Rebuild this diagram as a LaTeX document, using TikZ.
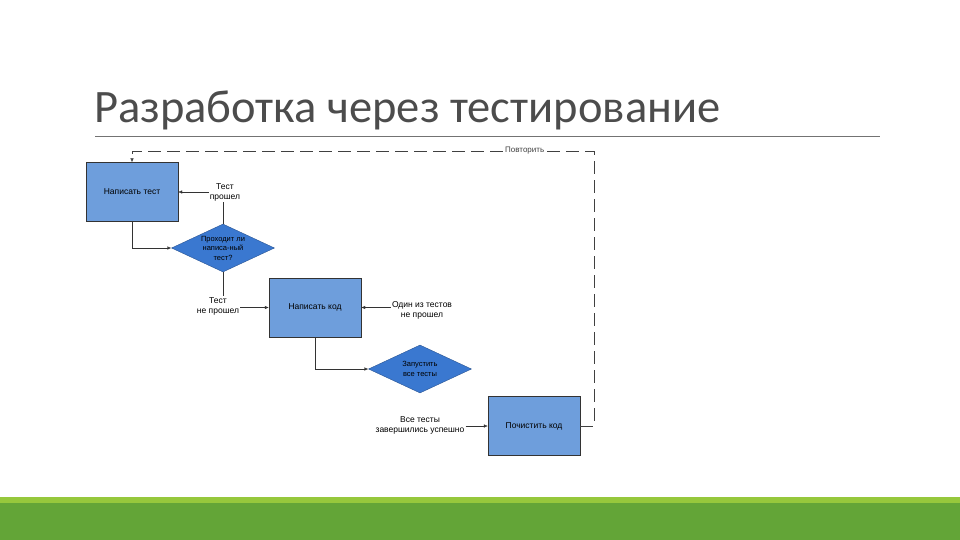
\documentclass[tikz,border=0pt]{standalone}
\usepackage{fontspec}
\usetikzlibrary{shapes.geometric,arrows.meta}
\newfontfamily\titlefont{Carlito}
\newfontfamily\chartfont{Liberation Sans}
\definecolor{boxblue}{RGB}{110,158,220}
\definecolor{diablue}{RGB}{58,120,208}
\definecolor{barlight}{RGB}{150,200,60}
\definecolor{bargreen}{RGB}{99,165,55}
\begin{document}
\begin{tikzpicture}[
  x=1pt, y=-1pt,
  stepbox/.style={rectangle, draw=black!80, thin, fill=boxblue, minimum width=92pt, minimum height=59pt, inner sep=0pt, font=\chartfont\fontsize{8.5}{10}\selectfont},
  decision/.style={diamond, draw=diablue!70!black, thin, fill=diablue, aspect=2, minimum width=103pt, minimum height=48pt, inner sep=0pt, align=center, font=\chartfont\fontsize{7.5}{9.5}\selectfont},
  lbl/.style={align=center, inner sep=1pt, font=\chartfont\fontsize{8.5}{10}\selectfont},
  flow/.style={black!80, thin},
  arr/.style={flow, -{Latex[length=4pt,width=3.5pt]}},
  back/.style={black!75, thin, dash pattern=on 13pt off 6pt, -{Latex[length=4pt,width=3.5pt]}}
]
\useasboundingbox (0,0) rectangle (960,540);

% title and rule
\node[anchor=base west, inner sep=0pt, text=black!70, font=\titlefont\fontsize{46.5}{50}\selectfont] (title) at (94,123) {Разработка через тестирование};
\draw[black!55, line width=0.8pt] (95,136) -- (880,136);

% boxes and decisions
\node[stepbox] (write) at (132,192) {Написать тест};
\node[decision] (check) at (223,248) {Проходит ли\\написа-ный\\тест?};
\node[stepbox] (code) at (315,307.5) {Написать код};
\node[decision] (run) at (420,369) {Запустить\\все тесты};
\node[stepbox] (clean) at (534,426) {Почистить код};

% branch labels
\node[lbl] (pass1) at (225,192) {Тест\\прошел};
\node[lbl] (fail1) at (218,306) {Тест\\не прошел};
\node[lbl] (fail2) at (422,310) {Один из тестов\\не прошел};
\node[lbl] (pass2) at (420,425) {Все тесты\\завершились успешно};
\coordinate (rpt) at (594,151);

% connectors
\draw[arr] (write.south) |- (check.west);
\draw[flow] (check.north) -- (check.north |- pass1.south);
\draw[arr] (pass1.west |- write.east) -- (write.east);
\draw[flow] (check.south) -- (check.south |- fail1.north);
\draw[arr] (fail1.east |- code.west) -- (code.west);
\draw[arr] (code.south) |- (run.west);
\draw[arr] (fail2.west |- code.east) -- (code.east);
\draw[arr] (pass2.east |- clean.west) -- (clean.west);

% repeat loop
\draw[back] (clean.east) -| (rpt) -- node[pos=0.15, fill=white, inner sep=2pt, font=\chartfont\fontsize{8}{9}\selectfont] {Повторить} (rpt -| write.north) -- (write.north);

% green footer bar
\fill[bargreen] (0,503) rectangle (960,540);
\fill[barlight] (0,497) rectangle (960,503);
\end{tikzpicture}
\end{document}
